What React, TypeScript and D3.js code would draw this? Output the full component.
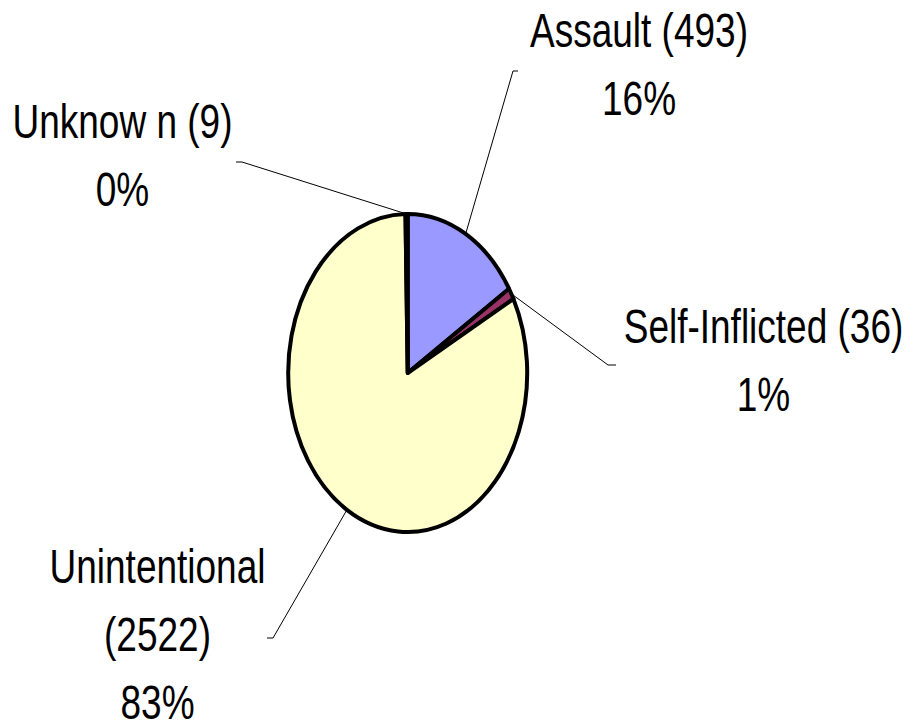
import * as d3 from 'd3';
import React, {useEffect, useRef} from 'react';

const categories = ['Assault', 'Self-Inflicted', 'Unintentional', 'Unknown'];
const counts = [493, 36, 2522, 9];
const colors = ['#9999FF', '#993366', '#FFFFCC', '#CCFFFF'];
// label lines as they appear on the chart
const labelNames = [['Assault (493)'], ['Self-Inflicted (36)'], ['Unintentional', '(2522)'], ['Unknow n (9)']];

const WIDTH = 915;
const HEIGHT = 725;
const center = {x: 407.7, y: 373};
const rx = 119.5;
const ry = 159;

// where each label sits and where its leader line bends
const labelLayout = [
  {cx: 639, baseline: 46.5, elbow: [513, 71], end: [518, 71]},
  {cx: 763.5, baseline: 343, elbow: [608, 365], end: [616, 365]},
  {cx: 157.5, baseline: 583, elbow: [273, 638], end: [267, 638]},
  {cx: 122.5, baseline: 138, elbow: [242, 162], end: [236, 162]}
];
const LINE_GAP = 68;

// Excel style rounding: percentages add up to 100
function percentLabels(values) {
  const total = d3.sum(values);
  const raw = values.map(v => v / total * 100);
  const floors = raw.map(Math.floor);
  let left = 100 - d3.sum(floors);
  const order = d3.range(values.length).sort((a, b) => (raw[b] - floors[b]) - (raw[a] - floors[a]));
  order.forEach(i => {
    if (left > 0) { floors[i] += 1; left -= 1; }
  });
  return floors.map(p => p + '%');
}

export default function App() {
  const ref = useRef(null);

  useEffect(() => {
    const svg = d3.select(ref.current);
    svg.selectAll('*').remove();

    const pie = d3.pie().sort(null).value(d => d)(counts);
    const arc = d3.arc().innerRadius(0).outerRadius(ry);
    const percents = percentLabels(counts);

    const pieGroup = svg.append('g')
      .attr('transform', `translate(${center.x},${center.y}) scale(${rx / ry},1)`);

    pieGroup.selectAll('path')
      .data(pie)
      .enter()
      .append('path')
      .attr('d', arc)
      .attr('fill', (d, i) => colors[i])
      .attr('stroke', '#000')
      .attr('stroke-width', 4)
      .attr('stroke-linejoin', 'round')
      .attr('vector-effect', 'non-scaling-stroke');

    const leaders = svg.append('g');
    const labels = svg.append('g')
      .attr('font-family', '"Liberation Sans", Arial, sans-serif')
      .attr('font-size', 49)
      .attr('fill', '#000');

    pie.forEach((slice, i) => {
      const mid = (slice.startAngle + slice.endAngle) / 2;
      const px = center.x + Math.sin(mid) * rx;
      const py = center.y - Math.cos(mid) * ry;
      const lay = labelLayout[i];

      leaders.append('path')
        .attr('d', d3.line()([[px, py], lay.elbow, lay.end]))
        .attr('fill', 'none')
        .attr('stroke', '#000')
        .attr('stroke-width', 1);

      const lines = labelNames[i].concat([percents[i]]);
      lines.forEach((txt, j) => {
        labels.append('text')
          .attr('transform', `translate(${lay.cx},${lay.baseline + j * LINE_GAP}) scale(0.755,1)`)
          .attr('text-anchor', 'middle')
          .text(txt);
      });
    });
  }, []);

  return (
    <svg ref={ref} width={WIDTH} height={HEIGHT}
      style={{position: 'absolute', left: 0, top: 0, background: '#fff'}} />
  );
}
